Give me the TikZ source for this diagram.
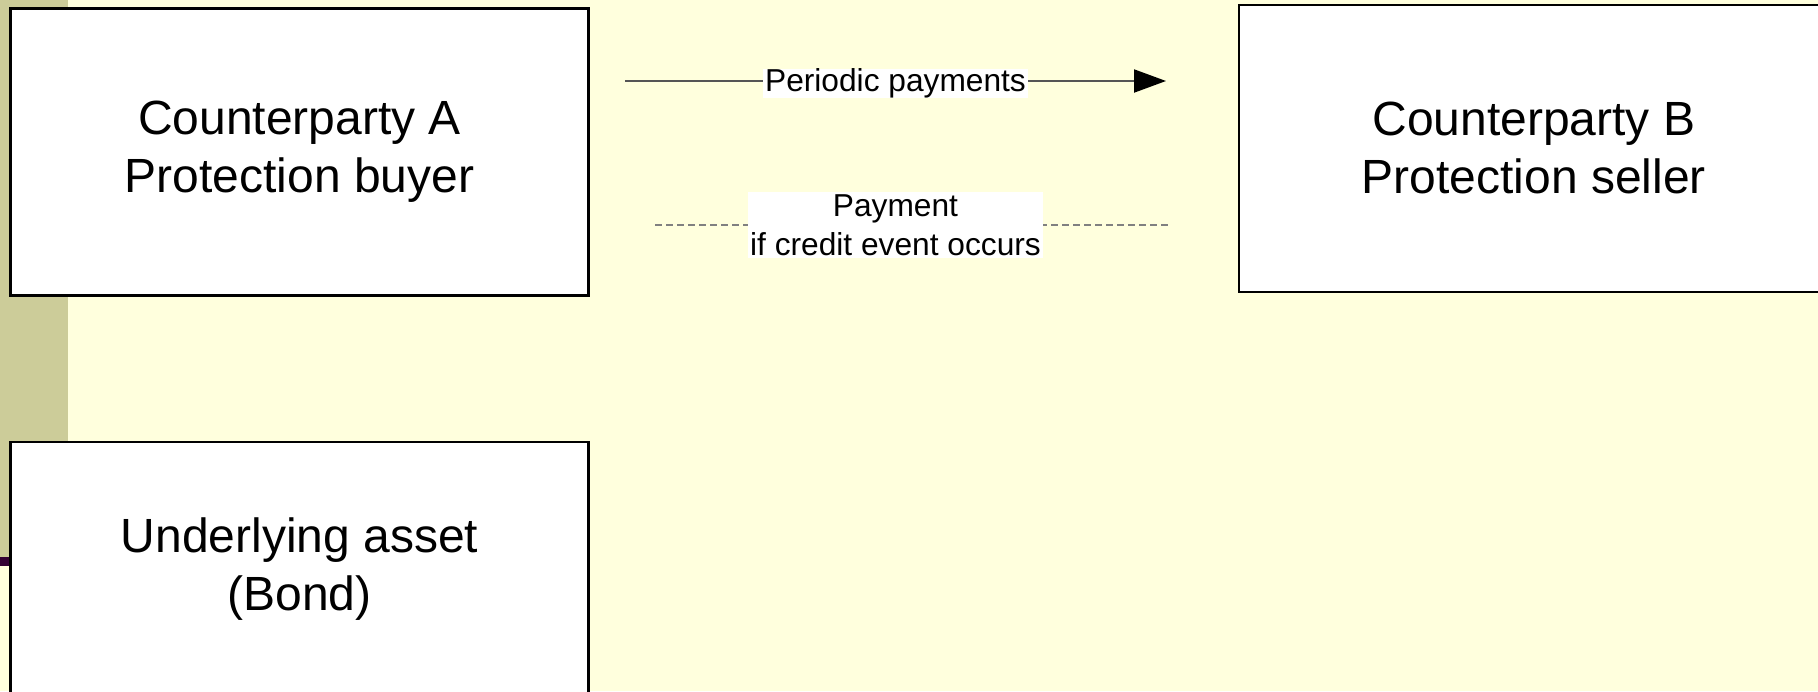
\documentclass[tikz,border=0pt]{standalone}
\usepackage{fontspec}
\setmainfont{Liberation Sans}
\usetikzlibrary{arrows.meta}
\definecolor{bgyellow}{RGB}{255,255,221}
\definecolor{stripolive}{RGB}{204,204,153}
\definecolor{darkplum}{RGB}{51,0,51}
\definecolor{flowgray}{RGB}{85,85,85}
\definecolor{dashgray}{RGB}{128,128,128}
\begin{document}
\begin{tikzpicture}[x=1pt,y=-1pt,
  party/.style={draw=black, line width=2.5pt, fill=white, minimum width=578pt,
    inner sep=0pt, align=center, font=\fontsize{48}{58}\selectfont},
  flowlabel/.style={fill=white, inner xsep=2pt, inner ysep=0pt, align=center,
    font=\fontsize{31.7}{39}\selectfont},
  flowline/.style={line width=2pt, draw=flowgray},
  eventline/.style={line width=2pt, draw=dashgray, dash pattern=on 7pt off 4pt}
]
\useasboundingbox (0,0) rectangle (1818,691);
\clip (0,0) rectangle (1818,691);
\fill[bgyellow] (0,0) rectangle (1818,691);
\fill[stripolive] (0,0) rectangle (67.5,557);
\fill[darkplum] (0,557) rectangle (14,566);

\node[party, minimum height=287pt] (A) at (299.5,151.75) {Counterparty A\\Protection buyer};
\node[party, minimum width=590pt, minimum height=287pt] (B) at (1533.75,148.25) {Counterparty B\\Protection seller};
\node[party, minimum height=254.5pt] (C) at (299.5,569) {Underlying asset\\(Bond)};

\coordinate (pstart) at (625,81);
\coordinate (pend) at (1166,81);
\coordinate (dstart) at (655,225);
\coordinate (dend) at (1168,225);

\draw[flowline, -{Triangle[length=32pt,width=23pt,color=black,fill=black]}] (pstart) -- (pend)
  node[flowlabel, midway, yshift=-2.5pt] (plab) {Periodic payments};
\draw[eventline] (dstart) -- (dend);
\node[flowlabel, inner ysep=2pt] (dlab) at (895.5,225) {Payment\\if credit event occurs};
\end{tikzpicture}
\end{document}
